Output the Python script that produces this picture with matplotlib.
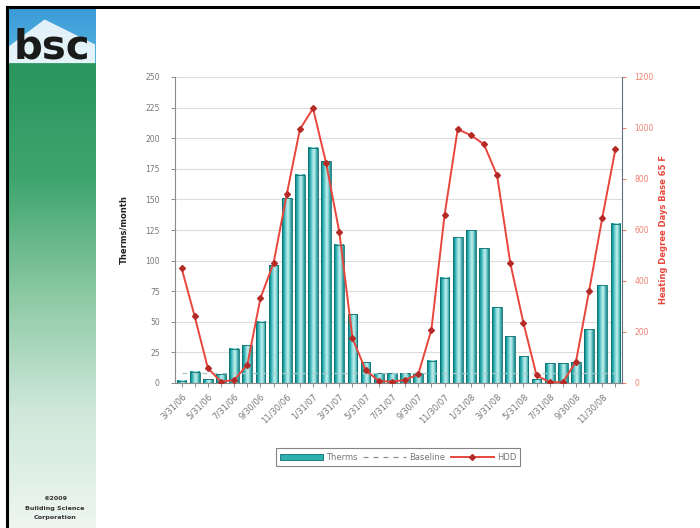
import numpy as np
import matplotlib
matplotlib.use("Agg")
import matplotlib.pyplot as plt
from matplotlib.colors import LinearSegmentedColormap
from matplotlib.patches import Rectangle, Polygon
from matplotlib.lines import Line2D

# Monthly readings, Mar 2006 - Dec 2008
months = ["3/31/06", "4/30/06", "5/31/06", "6/30/06", "7/31/06", "8/31/06",
          "9/30/06", "10/31/06", "11/30/06", "12/31/06", "1/31/07", "2/28/07",
          "3/31/07", "4/30/07", "5/31/07", "6/30/07", "7/31/07", "8/31/07",
          "9/30/07", "10/31/07", "11/30/07", "12/31/07", "1/31/08", "2/29/08",
          "3/31/08", "4/30/08", "5/31/08", "6/30/08", "7/31/08", "8/31/08",
          "9/30/08", "10/31/08", "11/30/08", "12/31/08"]
therms = [2, 9, 3, 7, 28, 31, 50, 96, 151, 170, 192, 181, 113, 56, 17, 8, 8,
          8, 8, 18, 86, 119, 125, 110, 62, 38, 22, 3, 16, 16, 17, 44, 80, 130]
baseline = [8] * len(months)
hdd = [451, 261, 58, 5, 12, 71, 333, 471, 740, 995, 1077, 861, 591, 176, 50,
       8, 5, 12, 34, 208, 657, 995, 972, 936, 814, 471, 236, 30, 3, 3, 84,
       362, 648, 917]

therm_ticks = list(range(0, 251, 25))
hdd_ticks = list(range(0, 1201, 200))

W, H = 700, 528
fig = plt.figure(figsize=(W / 100, H / 100), dpi=100)
fig.patch.set_facecolor("white")

# ---- side banner ----
side = fig.add_axes([8 / W, 0, 87 / W, 1 - 8 / H])
side.set_xlim(0, 1)
side.set_ylim(0, 1)
side.axis("off")
grad = np.linspace(0, 1, 256).reshape(-1, 1)
green_cmap = LinearSegmentedColormap.from_list(
    "g", ["#eef6f1", "#cfe8da", "#8cc9a4", "#3fa56f", "#2a955e"])
side.imshow(grad, extent=[0, 1, 0, 0.894], aspect="auto", cmap=green_cmap,
            origin="lower")
sky = LinearSegmentedColormap.from_list("s", ["#55b4e2", "#3a9ad6"])
side.imshow(grad, extent=[0, 1, 0.894, 1], aspect="auto", cmap=sky,
            origin="lower")
side.add_patch(Polygon([[0, 0.925], [0.42, 0.978], [1, 0.93], [1, 0.894],
                        [0, 0.894]], closed=True, facecolor="white",
                       edgecolor="none", alpha=0.85))
side.text(0.5, 0.902, "bsc", ha="center", va="baseline", fontsize=29,
          fontweight="bold", color="#1a1a1a", family="Liberation Sans Narrow")
for txt, yy in [("©2009", 0.057), ("Building Science", 0.038),
                ("Corporation", 0.020)]:
    side.text(0.54, yy, txt, ha="center", va="center", fontsize=4.6,
              fontweight="bold", color="#333333")

# outer frame lines
fig.add_artist(Line2D([7 / W, 1], [1 - 7 / H, 1 - 7 / H], color="black",
                      lw=2.2, transform=fig.transFigure))
fig.add_artist(Line2D([7 / W, 7 / W], [0, 1 - 7 / H], color="black",
                      lw=2.2, transform=fig.transFigure))

# ---- chart ----
ax = fig.add_axes([175 / W, 145 / H, 447 / W, 306 / H])
x = np.arange(len(months))

bar_cmap = LinearSegmentedColormap.from_list(
    "bar", ["#0f8282", "#22a8a8", "#7fd6d6", "#c8f0f0", "#6cc8c8", "#148888"])
hgrad = np.linspace(0, 1, 64).reshape(1, -1)
bw = 0.74
for xi, v in zip(x, therms):
    ax.imshow(hgrad, extent=[xi - bw / 2, xi + bw / 2, 0, v], aspect="auto",
              cmap=bar_cmap, zorder=2, interpolation="bilinear")
    ax.add_patch(Rectangle((xi - bw / 2, 0), bw, v, fill=False,
                           edgecolor="#0c7070", lw=0.6, zorder=3))
ax.set_xlim(-0.5, len(months) - 0.5)
ax.set_ylim(0, 250)

ax.plot(x, baseline, ls=(0, (4, 4)), color="#a9c9c9", lw=0.9, zorder=3)

ax.set_yticks(therm_ticks)
ax.yaxis.grid(True, color="#dcdcdc", lw=0.8)
ax.set_axisbelow(True)
ax.tick_params(axis="y", labelsize=5.5, colors="#777777", length=3,
               width=0.6, pad=8)
ax.set_ylabel("Therms/month", fontsize=6, fontweight="bold", color="#222222",
              labelpad=12)

ax.set_xticks(x[::2])
ax.set_xticklabels(months[::2], rotation=45, ha="right",
                   rotation_mode="anchor", fontsize=6, color="#777777")
ax.set_xticks(x, minor=True)
ax.tick_params(axis="x", which="both", length=3, colors="#777777", width=0.6)

ax.spines["top"].set_visible(False)
ax.spines["right"].set_visible(False)
ax.spines["left"].set_color("#8a8a8a")
ax.spines["bottom"].set_color("#8a8a8a")

ax2 = ax.twinx()
ax2.set_ylim(0, 1200)
ax2.set_yticks(hdd_ticks)
ax2.plot(x, hdd, color="#e8463c", lw=1.4, marker="D", markersize=3,
         markerfacecolor="#b42a26", markeredgecolor="#b42a26", zorder=5)
ax2.tick_params(axis="y", labelsize=5.5, colors="#f08070", length=3,
                width=0.8, pad=6)
ax2.spines["right"].set_color("#5f6f7f")
ax2.spines["top"].set_visible(False)
ax2.spines["left"].set_visible(False)
ax2.spines["bottom"].set_visible(False)
ax2.set_ylabel("Heating Degree Days Base 65 F", fontsize=6,
               fontweight="bold", color="#e8463c", labelpad=4)

# ---- legend ----
handles = [Rectangle((0, 0), 1, 1, facecolor="#2fb0b0", edgecolor="#0c7070",
                     lw=0.6),
           Line2D([], [], ls=(0, (4, 4)), color="#909090", lw=0.9),
           Line2D([], [], color="#e8463c", lw=1.4, marker="D", markersize=3,
                  markerfacecolor="#b42a26", markeredgecolor="#b42a26")]
leg = fig.legend(handles, ["Therms", "Baseline", "HDD"], ncol=3,
                 loc="center", bbox_to_anchor=(398 / W, 1 - 457 / H),
                 fontsize=6, frameon=True, fancybox=False,
                 handlelength=5.2, columnspacing=0.7, handletextpad=0.3,
                 borderpad=0.5)
leg.get_frame().set_edgecolor("#666666")
leg.get_frame().set_linewidth(0.8)
for t in leg.get_texts():
    t.set_color("#777777")

fig.savefig("out.png", dpi=100)
